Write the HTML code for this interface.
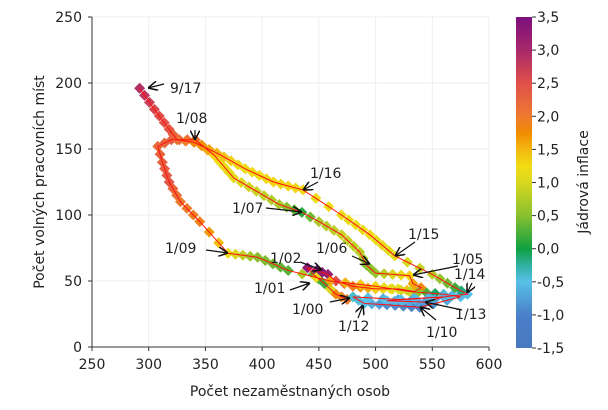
<!DOCTYPE html>
<html><head><meta charset="utf-8"><style>
html,body{margin:0;padding:0;background:#fff;width:608px;height:410px;overflow:hidden}
text{font-family:"DejaVu Sans","Liberation Sans",sans-serif;fill:#222}
</style></head><body>
<svg id="s" width="608" height="410" xmlns="http://www.w3.org/2000/svg">
<defs>
<linearGradient id="cb" x1="0" y1="1" x2="0" y2="0">
<stop offset="0" stop-color="#4a78c0"/><stop offset="0.1" stop-color="#4a80c8"/>
<stop offset="0.2" stop-color="#58c0e8"/><stop offset="0.25" stop-color="#30b0a0"/>
<stop offset="0.3" stop-color="#10a040"/><stop offset="0.4" stop-color="#88c030"/>
<stop offset="0.5" stop-color="#d8d820"/><stop offset="0.55" stop-color="#f2dc14"/>
<stop offset="0.6" stop-color="#f2b810"/><stop offset="0.65" stop-color="#f08c00"/>
<stop offset="0.7" stop-color="#ee7a30"/><stop offset="0.8" stop-color="#e0504a"/>
<stop offset="0.9" stop-color="#a8286a"/><stop offset="1" stop-color="#7b0f7e"/>
</linearGradient>
<marker id="ah" viewBox="0 0 10 10" refX="10" refY="5" markerWidth="8" markerHeight="8" orient="auto"><path d="M0,0 L10,5 L0,10" fill="none" stroke="#111" stroke-width="1.6"/></marker>
</defs>
<g id="grid" stroke="#eee" stroke-width="1"></g>
<g id="mk"></g>
<g id="ln"></g>
<g id="ax"></g>
<rect x="516" y="17" width="16" height="331" fill="url(#cb)"/>
<g id="cbt"></g>
<text x="0" y="0" font-size="14" transform="translate(588,182) rotate(-90)" text-anchor="middle">Jádrová inflace</text>
<text x="290" y="396" font-size="14" text-anchor="middle">Počet nezaměstnaných osob</text>
<text x="0" y="0" font-size="14" transform="translate(44,182) rotate(-90)" text-anchor="middle">Počet volných pracovních míst</text>
<g id="ann" font-size="14"></g>
</svg>
<script>
const NS="http://www.w3.org/2000/svg";
function el(p,t,a,txt){const e=document.createElementNS(NS,t);for(const k in a)e.setAttribute(k,a[k]);if(txt!=null)e.textContent=txt;document.getElementById(p).appendChild(e);return e;}
const X=x=>92+(x-250)*1.1343, Y=y=>347-y*1.32;
el('ax','line',{x1:92,y1:17,x2:92,y2:347,stroke:'#333'});
el('ax','line',{x1:92,y1:347,x2:489,y2:347,stroke:'#333'});
for(let v=250;v<=600;v+=50){el('ax','line',{x1:X(v),y1:347,x2:X(v),y2:351,stroke:'#333'});el('ax','text',{x:X(v),y:369,'font-size':14,'text-anchor':'middle'},v);
 el('grid','line',{x1:X(v),y1:17,x2:X(v),y2:347});}
for(let v=0;v<=250;v+=50){el('ax','line',{x1:88,y1:Y(v),x2:92,y2:Y(v),stroke:'#333'});el('ax','text',{x:82,y:Y(v)+5,'font-size':14,'text-anchor':'end'},v);
 el('grid','line',{x1:92,y1:Y(v),x2:489,y2:Y(v)});}
const cbl=["3,5","3,0","2,5","2,0","1,5","1,0","0,5","0,0","-0,5","-1,0","-1,5"];
cbl.forEach((t,i)=>{const y=17+i*33.1;el('cbt','line',{x1:532,y1:y,x2:536,y2:y,stroke:'#333'});el('cbt','text',{x:537,y:y+5,'font-size':14},t);});
const stops=[[-1.5,[74,120,192]],[-1,[74,128,200]],[-0.5,[88,192,232]],[-0.25,[48,176,160]],[0,[16,160,64]],[0.5,[136,192,48]],[1,[216,216,32]],[1.25,[242,220,20]],[1.5,[242,184,16]],[1.75,[240,140,0]],[2,[238,122,48]],[2.5,[224,80,74]],[3,[168,40,106]],[3.5,[123,15,126]]];
function col(c){c=Math.max(-1.5,Math.min(3.5,c));for(let i=0;i<stops.length-1;i++){const[a,ca]=stops[i],[b,cb]=stops[i+1];if(c<=b){const t=(c-a)/(b-a);return 'rgb('+ca.map((v,j)=>Math.round(v+(cb[j]-v)*t)).join(',')+')';}}}
const P=[[475,36,2],[465,40,1.8],[455,48,0.2],[445,55,0.3],[440,60,3.3],[448,58,3.4],[458,55,3.2],[465,50,2.5],[480,46,1.9],[500,44,1.4],[520,44,1.2],[535,42,1.6],[540,45,1.8],[533,48,1.6],[530,54,1.3],[515,55,1.0],[500,56,0.6],[492,62,0.5],[486,72,0.8],[470,85,0.9],[450,95,0.7],[435,102,0.1],[415,108,0.7],[395,118,0.9],[375,128,1.1],[358,145,1.3],[341,157,2.1],[320,157,2.3],[308,152,2.2],[312,140,2.3],[318,125,2.4],[328,110,2.0],[345,95,1.9],[370,71,1.2],[396,68,0.5],[423,58,0.3],[460,50,1.6],[500,46,1.3],[530,42,0.9],[560,40,-0.4],[575,38,-0.5],[539,30,-1.0],[510,32,-0.9],[490,33,-0.5],[480,38,-0.4],[520,36,-0.7],[560,38,-0.6],[544,34,-0.8],[510,35,-0.5],[560,38,-0.6],[581,40,-0.5],[570,45,0.2],[550,55,0.8],[517,69,1.1],[495,85,1.2],[470,100,1.2],[436,119,1.3],[410,125,1.3],[385,135,1.2],[360,147,1.5],[340,155,1.8],[325,157,2.1],[318,165,2.4],[305,180,2.6],[292,196,2.9]];
let pts=[];
for(let i=0;i<P.length-1;i++){const a=P[i],b=P[i+1];const dx=X(b[0])-X(a[0]),dy=Y(b[1])-Y(a[1]);const d=Math.hypot(dx,dy);const sp=d>40?14:8;const n=Math.max(1,Math.round(d/sp));for(let k=0;k<n;k++){const t=k/n;pts.push([X(a[0])+dx*t,Y(a[1])+dy*t,a[2]+(b[2]-a[2])*t]);}}
const L=P[P.length-1];pts.push([X(L[0]),Y(L[1]),L[2]]);
const r=5.5;
pts.forEach(p=>el('mk','path',{d:`M${p[0]},${p[1]-r}L${p[0]+r},${p[1]}L${p[0]},${p[1]+r}L${p[0]-r},${p[1]}Z`,fill:col(p[2])}));
el('ln','polyline',{points:P.map(p=>X(p[0])+','+Y(p[1])).join(' '),fill:'none',stroke:'#ff1010','stroke-width':1});
const A=[["9/17",170,88,148,88,'start'],["1/08",176,118,195,140,'start'],["1/16",310,173,303,190,'start'],["1/07",232,208,302,212,'start'],["1/09",165,248,228,253,'start'],["1/02",270,258,322,270,'start'],["1/01",254,288,310,283,'start'],["1/06",316,248,370,264,'start'],["1/15",408,234,395,256,'start'],["1/05",452,259,413,275,'start'],["1/14",454,274,467,293,'start'],["1/00",292,309,350,298,'start'],["1/12",338,326,363,305,'start'],["1/13",455,314,425,302,'start'],["1/10",426,332,420,307,'start']];
const tails={"9/17":[164,84],"1/08":[195,130],"1/16":[318,182],"1/07":[266,208],"1/09":[206,250],"1/02":[300,262],"1/01":[290,290],"1/06":[352,256],"1/15":[415,242],"1/05":[458,266],"1/14":[472,283],"1/00":[330,302],"1/12":[358,318],"1/13":[462,310],"1/10":[436,320]};
A.forEach(a=>{el('ann','text',{x:a[1],y:a[2]+5,'text-anchor':a[5]},a[0]);const t=tails[a[0]];el('ann','line',{x1:t[0],y1:t[1],x2:a[3],y2:a[4],stroke:'#111','stroke-width':1.2,'marker-end':'url(#ah)'});});
</script>
</body></html>
